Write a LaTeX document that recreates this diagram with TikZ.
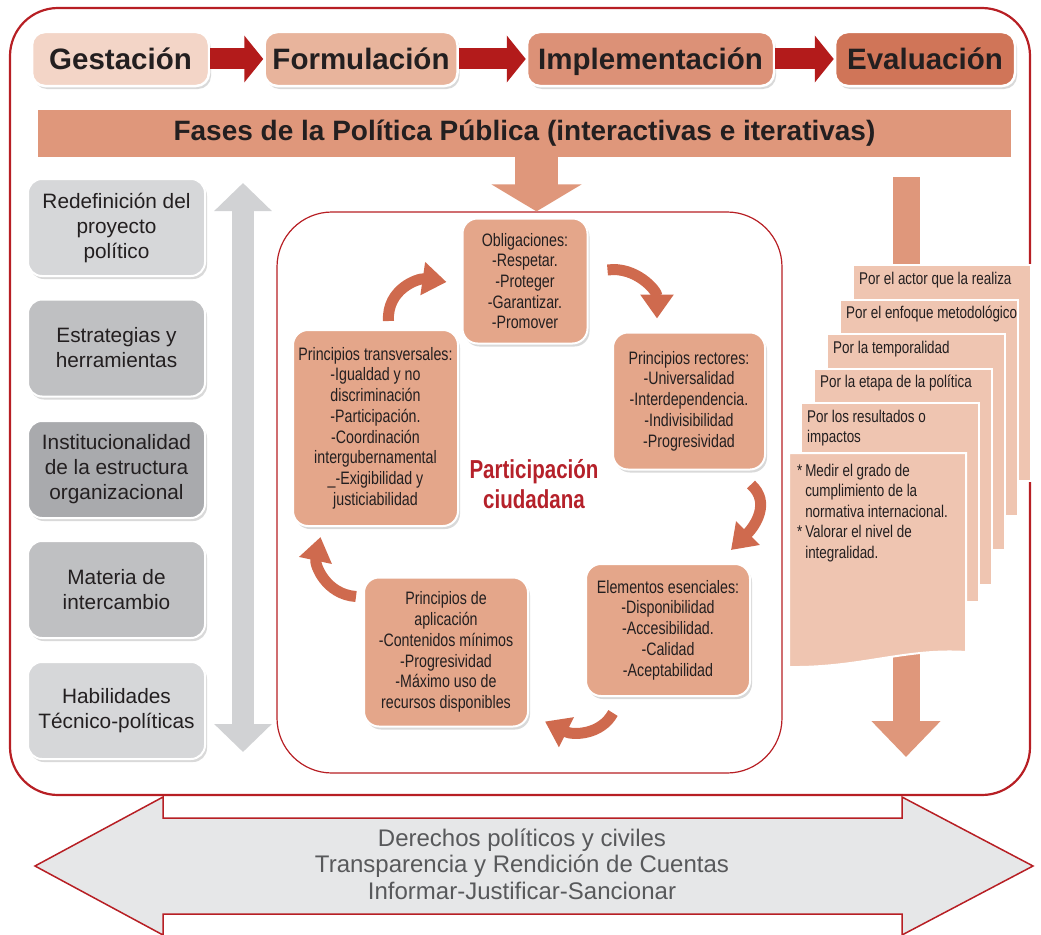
\documentclass[tikz,border=0pt]{standalone}
\usepackage{fontspec}
\setmainfont{Liberation Sans}
\newfontfamily\estrecha{Liberation Sans}[FakeStretch=0.79]
\usetikzlibrary{arrows.meta,shadows,positioning,calc}

\definecolor{rojo}{HTML}{B71F24}
\definecolor{flecha}{HTML}{B31B1B}
\definecolor{fase1}{HTML}{F3D5C7}
\definecolor{fase2}{HTML}{E8B49C}
\definecolor{fase3}{HTML}{DC9177}
\definecolor{fase4}{HTML}{D07558}
\definecolor{banda}{HTML}{DF977B}
\definecolor{salmon}{HTML}{E4A68A}
\definecolor{curva}{HTML}{CF6A4E}
\definecolor{hojac}{HTML}{EFC5B1}
\definecolor{grisf}{HTML}{D1D2D4}
\definecolor{gris1}{HTML}{D6D7D9}
\definecolor{gris2}{HTML}{BFC0C2}
\definecolor{gris3}{HTML}{A9AAAD}
\definecolor{fondo}{HTML}{E6E7E8}
\definecolor{texto}{HTML}{231F20}
\definecolor{grist}{HTML}{58595B}
\definecolor{titulo}{HTML}{B5212A}

\tikzset{
  sombra/.style={drop shadow={shadow xshift=2pt,shadow yshift=-3pt,opacity=.3}},
  etapa/.style={rounded corners=13pt, draw=white, line width=2.5pt, sombra, minimum height=54pt, inner sep=0pt, text height=21pt, text depth=0pt, text=texto, font=\bfseries\fontsize{29.5}{34}\selectfont},
  avance/.style={draw=flecha, line width=21pt, -{Triangle[width=46pt,length=19pt]}},
  lateral/.style={rounded corners=14pt, draw=white, line width=2pt, sombra, minimum width=177pt, minimum height=97pt, inner sep=0pt, align=center, text=texto, font=\fontsize{20.8}{25}\selectfont},
  caja/.style={rounded corners=15pt, fill=salmon, draw=white, line width=2pt, sombra, inner sep=0pt, align=center, text=texto, font=\estrecha\fontsize{18}{20.7}\selectfont},
  giro/.style={draw=curva, line width=11pt, -{Triangle[width=32pt,length=24pt]}},
  hoja/.style={fill=hojac, draw=white, line width=2pt},
  nota/.style={inner sep=0pt, text=texto, font=\estrecha\fontsize{17}{20.5}\selectfont},
}

\begin{document}
\begin{tikzpicture}[x=1pt,y=-1pt]
			%%%%% START %%%%%
			\useasboundingbox (0,0) rectangle (1041,934);
			
			\draw[rojo, line width=2.2pt, rounded corners=48pt] (10,8) rectangle (1030,795);
			
			% derechos (flecha doble de abajo)
			\draw[fill=fondo, draw=rojo, line width=1.5pt] (35,866) -- (163,797) -- (163,818) -- (902,818) -- (902,797) -- (1033,866) -- (902,935) -- (902,914) -- (163,914) -- (163,935) -- cycle;
			\node[text=grist, align=center, font=\fontsize{24}{26.5}\selectfont] (derechos) at (522,864) {Derechos políticos y civiles\\Transparencia y Rendición de Cuentas\\Informar-Justificar-Sancionar};
			
			% fases
			\node[etapa, fill=fase1, minimum width=177pt] (gest) at (120.5,59) {Gestación};
			\node[etapa, fill=fase2, minimum width=193pt] (form) at (361,59) {Formulación};
			\node[etapa, fill=fase3, minimum width=247pt] (impl) at (650.5,59) {Implementación};
			\node[etapa, fill=fase4, minimum width=180pt] (eval) at (925,59) {Evaluación};
			\draw[avance] (gest) -- (form);
			\draw[avance] (form) -- (impl);
			\draw[avance] (impl) -- (eval);
			
			\node[fill=banda, minimum width=973pt, minimum height=47pt, inner sep=0pt, text=texto, font=\bfseries\fontsize{28}{32}\selectfont] (fases) at (524.5,133.5) {Fases de la Política Pública (interactivas e iterativas)};
			
			\node[draw=rojo, line width=1.2pt, rounded corners=55pt, minimum width=505pt, minimum height=561pt, inner sep=0pt] (ciclo) at (529.5,492.5) {};
			\coordinate (bajada) at ([shift={(12,0)}]fases.south);
			\draw[banda, line width=43pt, -{Triangle[width=89pt,length=27pt]}] (bajada) -- (bajada |- ciclo.north);
			
			% columna izquierda
			\coordinate (gsup) at (243,183);
			\coordinate (ginf) at (243,752);
			\draw[grisf, line width=22pt, {Triangle[width=56pt,length=28pt]}-{Triangle[width=56pt,length=28pt]}] (gsup) -- (ginf);
			
			\node[lateral, fill=gris1] (redef) at (116.5,227.5) {Redefinición del\\proyecto\\político};
			\node[lateral, fill=gris2] (estrat) at (116.5,348) {Estrategias y\\herramientas};
			\node[lateral, fill=gris3] (instit) at (116.5,469.5) {Institucionalidad\\de la estructura\\organizacional};
			\node[lateral, fill=gris2] (materia) at (116.5,589.5) {Materia de\\intercambio};
			\node[lateral, fill=gris1] (habil) at (116.5,710.5) {Habilidades\\Técnico-políticas};
			
			% evaluacion (hojas)
			\coordinate (evsup) at (906,177);
			\coordinate (evinf) at (906,757);
			\draw[banda, line width=27pt, -{Triangle[width=67pt,length=36pt]}] (evsup) -- (evinf);
			
			\foreach \i/\txt/\alto in {0/{Por el actor que la realiza}/216, 1/{Por el enfoque metodológico}/216, 2/{Por la temporalidad}/216, 3/{Por la etapa de la política}/216, 4/{Por los resultados o\\impactos}/199}{
				\draw[hoja] (853-13*\i,265+34.5*\i) rectangle ++(178,\alto);
				\node[nota, anchor=base west] (hoja\i) at (859-13*\i,284+34.5*\i) {\begin{tabular}[t]{@{}l@{}}\txt\end{tabular}};
			}
			\draw[hoja] (789,453) -- (966,453) -- (966,652) .. controls (905,648) and (860,668) .. (789,667) -- cycle;
			\node[nota, anchor=base west] (medir) at (797,476) {\begin{tabular}[t]{@{}l@{\,}l@{}}*&Medir el grado de\\&cumplimiento de la\\&normativa internacional.\\{*}&Valorar el nivel de\\&integralidad.\end{tabular}};
			
			% ciclo de derechos
			\node[caja, minimum width=125pt, minimum height=125pt] (oblig) at (525,281) {Obligaciones:\\-Respetar.\\-Proteger\\-Garantizar.\\-Promover};
			\node[caja, minimum width=152pt, minimum height=137pt] (rector) at (689,401) {Principios rectores:\\-Universalidad\\-Interdependencia.\\-Indivisibilidad\\-Progresividad};
			\node[caja, minimum width=164pt, minimum height=132pt] (esencial) at (668,630) {Elementos esenciales:\\-Disponibilidad\\-Accesibilidad.\\-Calidad\\-Aceptabilidad};
			\node[caja, minimum width=164pt, minimum height=149pt] (aplica) at (446,652) {Principios de\\aplicación\\-Contenidos mínimos\\-Progresividad\\-Máximo uso de\\recursos disponibles};
			\node[caja, minimum width=165pt, minimum height=196pt] (transv) at (375.5,428) {Principios transversales:\\-Igualdad y no\\discriminación\\-Participación.\\-Coordinación\\intergubernamental\\\_-Exigibilidad y\\justiciabilidad};
			
			\draw[giro] ([shift={(19,-11)}]oblig.east) .. controls +(28,-4) and +(0,-28) .. ([shift={(-32,-13)}]rector.north);
			\draw[giro] ([shift={(-15,14)}]rector.south east) .. controls +(20,18) and +(24,-24) .. ([shift={(-20,-13)}]esencial.north east);
			\draw[giro] ([shift={(-55,16)}]esencial.south) .. controls +(-12,22) and +(28,14) .. ([shift={(16,-6)}]aplica.south east);
			\draw[giro] ([shift={(-7,20)}]aplica.north west) .. controls +(-30,-2) and +(-6,28) .. ([shift={(-55,10)}]transv.south);
			\draw[giro] ([shift={(13,-8)}]transv.north) .. controls +(-2,-32) and +(-28,-4) .. ([shift={(-15,1)}]oblig.west);
			
			\node[text=titulo, align=center, font=\estrecha\bfseries\fontsize{26}{30}\selectfont] (partic) at (534,484) {Participación\\ciudadana};
			
			%%%%% END %%%%%
\end{tikzpicture}
\end{document}
